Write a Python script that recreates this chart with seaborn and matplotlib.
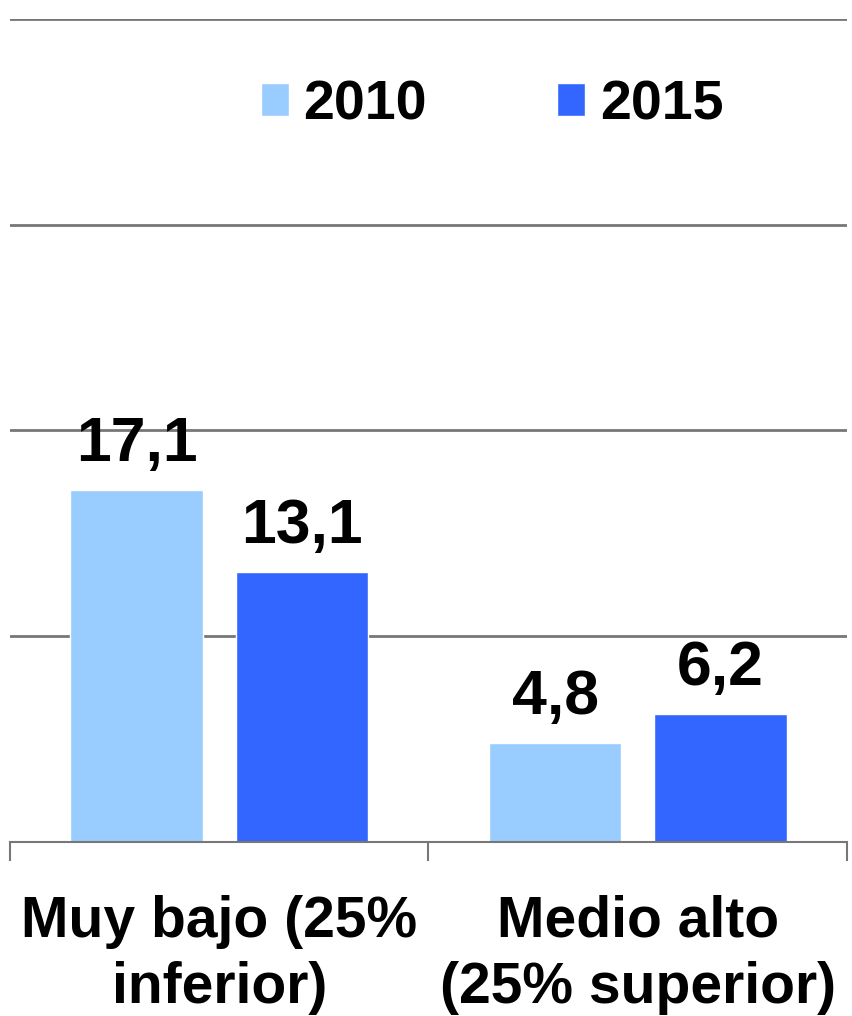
import pandas as pd
import seaborn as sns
import matplotlib.pyplot as plt

# datos
categorias = ["Muy bajo (25%\ninferior)", "Medio alto\n(25% superior)"]
anios = ["2010", "2015"]
valores_2010 = [17.1, 4.8]
valores_2015 = [13.1, 6.2]
colores = ["#99CCFF", "#3366FF"]

df = pd.DataFrame({
    "Categoria": categorias * 2,
    "Anio": [anios[0]] * 2 + [anios[1]] * 2,
    "Valor": valores_2010 + valores_2015,
})

sns.set_style("white")
plt.rcParams["font.family"] = ["Liberation Sans", "DejaVu Sans"]
plt.rcParams["font.weight"] = "bold"
plt.rcParams["text.color"] = "black"
plt.rcParams["xtick.color"] = "black"

fig = plt.figure(figsize=(8.53, 10.16), dpi=100)
ax = fig.add_axes([10 / 853, 1 - 842 / 1016, 837 / 853, 823 / 1016])

sns.barplot(data=df, x="Categoria", y="Valor", hue="Anio", palette=colores,
            width=0.79, gap=0.2, ax=ax, saturation=1)

ax.set_ylim(0, 40)
ax.set_xlim(-0.5, 1.5)
ax.set_yticks([10, 20, 30, 40])
ax.yaxis.grid(True, color="#777777", linewidth=2)
ax.set_axisbelow(True)
ax.tick_params(axis="y", left=False, labelleft=False)
for s in ["top", "right", "left"]:
    ax.spines[s].set_visible(False)
ax.spines["bottom"].set_color("#777777")
ax.spines["bottom"].set_linewidth(1.5)

# separadores de categoría
ax.set_xticks([-0.5, 0.5, 1.5], minor=True)
ax.tick_params(axis="x", which="minor", bottom=True, length=14, width=1.5,
               color="#777777", direction="out")
ax.tick_params(axis="x", which="major", length=0, pad=38, labelcolor="black")
ax.set_xlabel("")
ax.set_ylabel("")
for lab in ax.get_xticklabels():
    lab.set_fontsize(41)
    lab.set_fontweight("bold")
    lab.set_linespacing(1.28)
    lab.set_color("black")

for cont in ax.containers:
    etiquetas = [f"{b.get_height():.1f}".replace(".", ",") for b in cont]
    ax.bar_label(cont, labels=etiquetas, padding=12, fontsize=45, fontweight="bold",
                 color="black")

handles, labels = ax.get_legend_handles_labels()
leg = ax.legend(handles, labels, loc="center", bbox_to_anchor=(0.576, 0.8955), ncol=2,
                frameon=False, handlelength=0.5, handleheight=0.54,
                handletextpad=0.27, columnspacing=2.34, prop={"weight": "bold", "size": 40})
for t in leg.get_texts():
    t.set_color("black")

fig.savefig("out.png", dpi=100)
